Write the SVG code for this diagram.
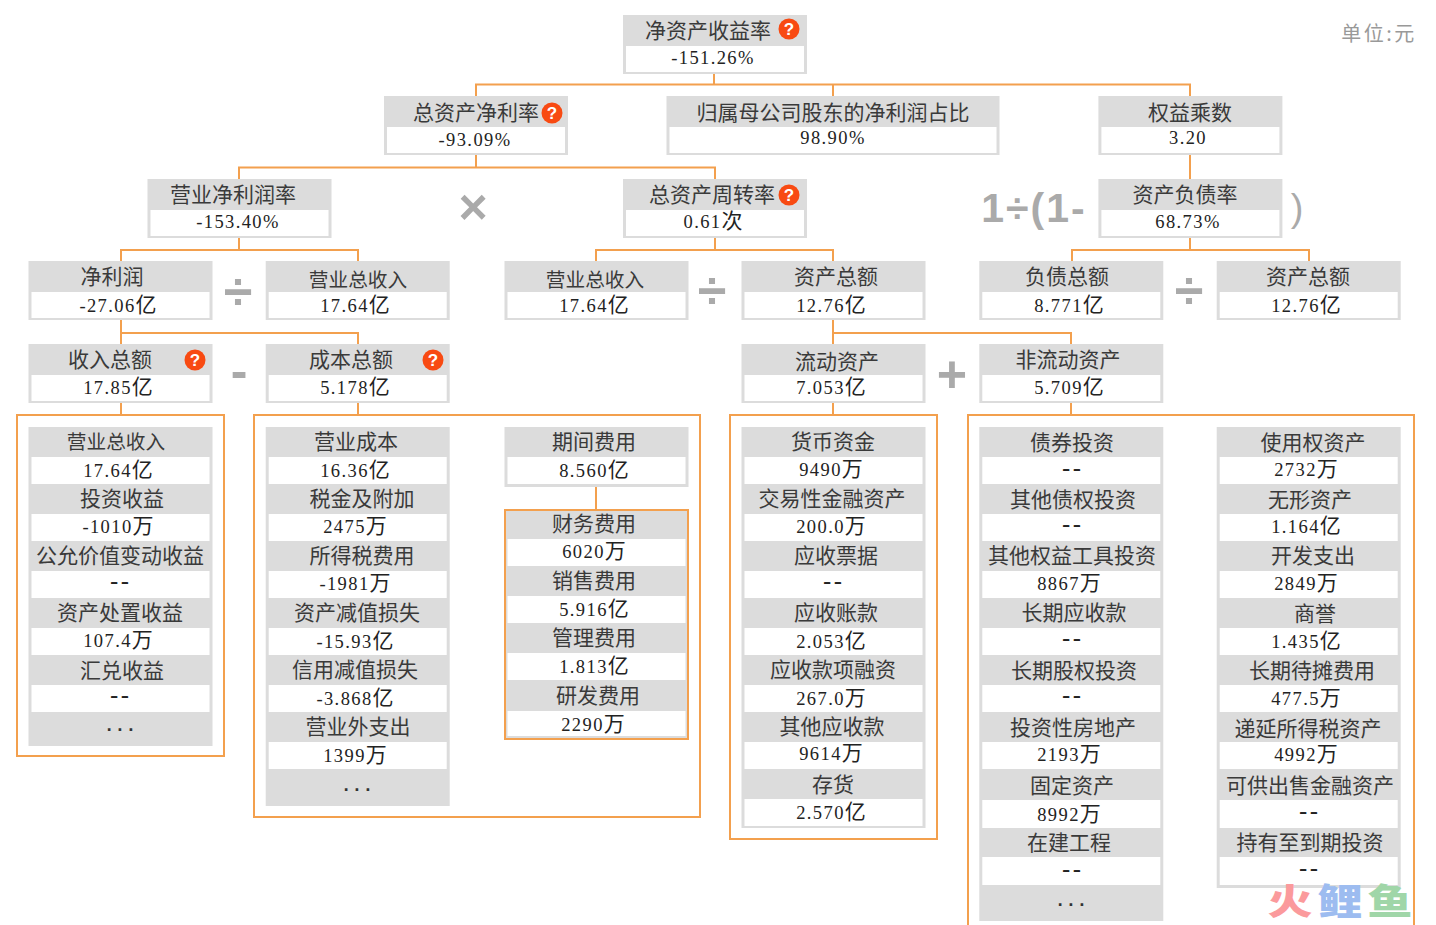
<svg xmlns="http://www.w3.org/2000/svg" width="1436" height="925" viewBox="0 0 1436 925">
<style>
text{text-anchor:middle}
.g{fill:#dcdcdc}
.w{fill:#fff}
.h{font:21px "Noto Sans CJK SC",sans-serif;fill:#3a3a3a}
.h5{font-size:19.7px}
g[id^=list] .h,#n-period .h{transform:translateY(-1px)}
.v{font:18.5px "Liberation Serif","Noto Sans CJK SC",serif;fill:#222;letter-spacing:1.4px}
.v tspan{font:21px "Noto Sans CJK SC",sans-serif;letter-spacing:0}
.d{font:23px "Liberation Mono",monospace;fill:#222;letter-spacing:-3px}
.c{fill:none;stroke:#f3a04e;stroke-width:2}
.q{fill:#f84a12}
.qt{font:bold 17px "Liberation Sans",sans-serif;fill:#fff}
.op{font-family:"Liberation Sans",sans-serif;font-weight:bold;fill:#aaa}
.more{font:bold 18px "Liberation Mono",monospace;fill:#333}
</style>
<defs>
<g id="qm"><circle class="q" r="10.5"/><text class="qt" y="6">?</text></g>
</defs>
<rect width="1436" height="925" fill="#fff"/>
<g id="connectors">
<path class="c" d="M714 74V84.500M476 96V84.500H1190V96M833 84.500V96"/>
<path class="c" d="M476 155V167.500M239 179V167.500H715V179M1190 155V179"/>
<path class="c" d="M239 238V250M121 261V250H358V261M715 238V250M596 261V250H833V261M1190 238V250M1072 261V250H1309V261"/>
<path class="c" d="M121 320V344M121 333H358V344M833 320V344M833 333H1071V344"/>
<path class="c" d="M121 403V415M358 403V415M833 403V415M1071 403V415M596 487V510"/>
<rect class="c" x="17" y="415" width="207" height="341"/>
<rect class="c" x="254" y="415" width="446" height="402"/>
<rect class="c" x="730" y="415" width="207" height="424"/>
<path class="c" d="M968 925V415H1414V925"/>
</g>
<g id="n-roe"><rect class="g" x="623" y="15" width="184" height="59"/><rect class="w" x="626" y="46" width="178" height="26"/><text class="h" x="708" y="38">净资产收益率</text><text class="v" x="713" y="64">-151.26%</text><use href="#qm" x="789" y="29"/></g>
<g id="n-roa"><rect class="g" x="384" y="96" width="184" height="59"/><rect class="w" x="387" y="127" width="178" height="26"/><text class="h" x="476" y="120">总资产净利率</text><text class="v" x="475" y="146">-93.09%</text><use href="#qm" x="552" y="113"/></g>
<g id="n-parent"><rect class="g" x="666.500" y="96" width="333" height="59"/><rect class="w" x="669.500" y="127" width="327" height="26"/><text class="h" x="833" y="120">归属母公司股东的净利润占比</text><text class="v" x="833" y="144">98.90%</text></g>
<g id="n-em"><rect class="g" x="1098.400" y="96" width="184" height="59"/><rect class="w" x="1101.400" y="127" width="178" height="26"/><text class="h" x="1190" y="120">权益乘数</text><text class="v" x="1188" y="144">3.20</text></g>
<g id="n-npm"><rect class="g" x="147.500" y="179" width="184" height="59"/><rect class="w" x="150.500" y="210" width="178" height="26"/><text class="h" x="233" y="202">营业净利润率</text><text class="v" x="238" y="228">-153.40%</text></g>
<g id="n-tat"><rect class="g" x="623" y="179" width="184" height="59"/><rect class="w" x="626" y="210" width="178" height="26"/><text class="h" x="712" y="202">总资产周转率</text><text class="v" x="713" y="228">0.61<tspan>次</tspan></text><use href="#qm" x="789" y="195"/></g>
<g id="n-dar"><rect class="g" x="1098.400" y="179" width="184" height="59"/><rect class="w" x="1101.400" y="210" width="178" height="26"/><text class="h" x="1185" y="202">资产负债率</text><text class="v" x="1188" y="228">68.73%</text></g>
<g id="n-np"><rect class="g" x="28.500" y="261" width="184" height="59"/><rect class="w" x="31.500" y="292" width="178" height="26"/><text class="h" x="112" y="284">净利润</text><text class="v" x="118" y="312">-27.06<tspan>亿</tspan></text></g>
<g id="n-rev1"><rect class="g" x="265.700" y="261" width="184" height="59"/><rect class="w" x="268.700" y="292" width="178" height="26"/><text class="h h5" x="358" y="287">营业总收入</text><text class="v" x="355" y="312">17.64<tspan>亿</tspan></text></g>
<g id="n-rev2"><rect class="g" x="504.500" y="261" width="184" height="59"/><rect class="w" x="507.500" y="292" width="178" height="26"/><text class="h h5" x="595" y="287">营业总收入</text><text class="v" x="594" y="312">17.64<tspan>亿</tspan></text></g>
<g id="n-ta1"><rect class="g" x="741.500" y="261" width="184" height="59"/><rect class="w" x="744.500" y="292" width="178" height="26"/><text class="h" x="836" y="284">资产总额</text><text class="v" x="831" y="312">12.76<tspan>亿</tspan></text></g>
<g id="n-tl"><rect class="g" x="979.300" y="261" width="184" height="59"/><rect class="w" x="982.300" y="292" width="178" height="26"/><text class="h" x="1067" y="284">负债总额</text><text class="v" x="1069" y="312">8.771<tspan>亿</tspan></text></g>
<g id="n-ta2"><rect class="g" x="1216.700" y="261" width="184" height="59"/><rect class="w" x="1219.700" y="292" width="178" height="26"/><text class="h" x="1308" y="284">资产总额</text><text class="v" x="1306" y="312">12.76<tspan>亿</tspan></text></g>
<g id="n-inc"><rect class="g" x="28.500" y="344" width="184" height="59"/><rect class="w" x="31.500" y="375" width="178" height="26"/><text class="h" x="110" y="367">收入总额</text><text class="v" x="118" y="394">17.85<tspan>亿</tspan></text><use href="#qm" x="195" y="360"/></g>
<g id="n-cost"><rect class="g" x="265.700" y="344" width="184" height="59"/><rect class="w" x="268.700" y="375" width="178" height="26"/><text class="h" x="351" y="367">成本总额</text><text class="v" x="355" y="394">5.178<tspan>亿</tspan></text><use href="#qm" x="433" y="360"/></g>
<g id="n-ca"><rect class="g" x="741.500" y="344" width="184" height="59"/><rect class="w" x="744.500" y="375" width="178" height="26"/><text class="h" x="837" y="369">流动资产</text><text class="v" x="831" y="394">7.053<tspan>亿</tspan></text></g>
<g id="n-nca"><rect class="g" x="979.300" y="344" width="184" height="59"/><rect class="w" x="982.300" y="375" width="178" height="26"/><text class="h" x="1068" y="367">非流动资产</text><text class="v" x="1069" y="394">5.709<tspan>亿</tspan></text></g>
<g id="list-income"><rect class="g" x="28.500" y="427" width="184" height="319"/>
<rect class="w" x="31.500" y="457" width="178" height="27"/><text class="h h5" x="116" y="450">营业总收入</text><text class="v" x="118" y="477">17.64<tspan>亿</tspan></text>
<rect class="w" x="31.500" y="514" width="178" height="27"/><text class="h" x="122" y="507">投资收益</text><text class="v" x="118" y="533">-1010<tspan>万</tspan></text>
<rect class="w" x="31.500" y="571" width="178" height="27"/><text class="h" x="120" y="564">公允价值变动收益</text><text class="d" x="118" y="589">--</text>
<rect class="w" x="31.500" y="628" width="178" height="27"/><text class="h" x="120" y="621">资产处置收益</text><text class="v" x="118" y="647">107.4<tspan>万</tspan></text>
<rect class="w" x="31.500" y="685" width="178" height="27"/><text class="h" x="122" y="679">汇兑收益</text><text class="d" x="118" y="703">--</text>
<text class="more" x="120" y="731">...</text></g>
<g id="list-cost"><rect class="g" x="265.700" y="427" width="184" height="379"/>
<rect class="w" x="268.700" y="457" width="178" height="27"/><text class="h" x="356" y="450">营业成本</text><text class="v" x="355" y="477">16.36<tspan>亿</tspan></text>
<rect class="w" x="268.700" y="514" width="178" height="27"/><text class="h" x="362" y="507">税金及附加</text><text class="v" x="355" y="533">2475<tspan>万</tspan></text>
<rect class="w" x="268.700" y="571" width="178" height="27"/><text class="h" x="362" y="564">所得税费用</text><text class="v" x="355" y="590">-1981<tspan>万</tspan></text>
<rect class="w" x="268.700" y="628" width="178" height="27"/><text class="h" x="357" y="621">资产减值损失</text><text class="v" x="355" y="648">-15.93<tspan>亿</tspan></text>
<rect class="w" x="268.700" y="685" width="178" height="27"/><text class="h" x="355" y="678">信用减值损失</text><text class="v" x="355" y="705">-3.868<tspan>亿</tspan></text>
<rect class="w" x="268.700" y="742" width="178" height="27"/><text class="h" x="358" y="735">营业外支出</text><text class="v" x="355" y="762">1399<tspan>万</tspan></text>
<text class="more" x="357" y="791">...</text></g>
<g id="n-period"><rect class="g" x="504.500" y="427" width="184" height="60"/><rect class="w" x="507.500" y="457" width="178" height="27"/><text class="h" x="594" y="450">期间费用</text><text class="v" x="594" y="477">8.560<tspan>亿</tspan></text></g>
<g id="list-period"><rect class="g" x="505" y="510" width="183" height="229"/>
<rect class="w" x="507.500" y="539" width="178" height="27"/><text class="h" x="594" y="532">财务费用</text><text class="v" x="594" y="558">6020<tspan>万</tspan></text>
<rect class="w" x="507.500" y="596" width="178" height="27"/><text class="h" x="594" y="589">销售费用</text><text class="v" x="594" y="616">5.916<tspan>亿</tspan></text>
<rect class="w" x="507.500" y="653" width="178" height="27"/><text class="h" x="594" y="646">管理费用</text><text class="v" x="594" y="673">1.813<tspan>亿</tspan></text>
<rect class="w" x="507.500" y="711" width="178" height="25"/><text class="h" x="598" y="704">研发费用</text><text class="v" x="593" y="731">2290<tspan>万</tspan></text>
<rect class="c" x="505" y="510" width="183" height="229"/></g>
<g id="list-ca"><rect class="g" x="741.500" y="427" width="184" height="401"/>
<rect class="w" x="744.500" y="457" width="178" height="27"/><text class="h" x="833" y="450">货币资金</text><text class="v" x="831" y="476">9490<tspan>万</tspan></text>
<rect class="w" x="744.500" y="514" width="178" height="27"/><text class="h" x="832" y="507">交易性金融资产</text><text class="v" x="831" y="533">200.0<tspan>万</tspan></text>
<rect class="w" x="744.500" y="571" width="178" height="27"/><text class="h" x="836" y="564">应收票据</text><text class="d" x="831" y="589">--</text>
<rect class="w" x="744.500" y="628" width="178" height="27"/><text class="h" x="836" y="621">应收账款</text><text class="v" x="831" y="648">2.053<tspan>亿</tspan></text>
<rect class="w" x="744.500" y="685" width="178" height="27"/><text class="h" x="833" y="678">应收款项融资</text><text class="v" x="831" y="705">267.0<tspan>万</tspan></text>
<rect class="w" x="744.500" y="742" width="178" height="27"/><text class="h" x="832" y="735">其他应收款</text><text class="v" x="831" y="760">9614<tspan>万</tspan></text>
<rect class="w" x="744.500" y="799" width="178" height="27"/><text class="h" x="833" y="793">存货</text><text class="v" x="831" y="819">2.570<tspan>亿</tspan></text></g>
<g id="list-nca-1"><rect class="g" x="979.300" y="427" width="184" height="494"/>
<rect class="w" x="982.300" y="457" width="178" height="27"/><text class="h" x="1072" y="451">债券投资</text><text class="d" x="1070" y="476">--</text>
<rect class="w" x="982.300" y="514" width="178" height="27"/><text class="h" x="1073" y="508">其他债权投资</text><text class="d" x="1070" y="532">--</text>
<rect class="w" x="982.300" y="571" width="178" height="27"/><text class="h" x="1072" y="564">其他权益工具投资</text><text class="v" x="1069" y="590">8867<tspan>万</tspan></text>
<rect class="w" x="982.300" y="628" width="178" height="27"/><text class="h" x="1074" y="621">长期应收款</text><text class="d" x="1070" y="646">--</text>
<rect class="w" x="982.300" y="685" width="178" height="27"/><text class="h" x="1074" y="679">长期股权投资</text><text class="d" x="1070" y="703">--</text>
<rect class="w" x="982.300" y="742" width="178" height="27"/><text class="h" x="1073" y="736">投资性房地产</text><text class="v" x="1069" y="761">2193<tspan>万</tspan></text>
<rect class="w" x="982.300" y="800" width="178" height="28"/><text class="h" x="1072" y="794">固定资产</text><text class="v" x="1069" y="821">8992<tspan>万</tspan></text>
<rect class="w" x="982.300" y="857" width="178" height="28"/><text class="h" x="1069" y="851">在建工程</text><text class="d" x="1070" y="877">--</text>
<text class="more" x="1071" y="906">...</text></g>
<g id="list-nca-2"><rect class="g" x="1216.700" y="427" width="184" height="461"/>
<rect class="w" x="1219.700" y="457" width="178" height="27"/><text class="h" x="1313" y="451">使用权资产</text><text class="v" x="1306" y="476">2732<tspan>万</tspan></text>
<rect class="w" x="1219.700" y="514" width="178" height="27"/><text class="h" x="1310" y="508">无形资产</text><text class="v" x="1306" y="533">1.164<tspan>亿</tspan></text>
<rect class="w" x="1219.700" y="571" width="178" height="27"/><text class="h" x="1313" y="564">开发支出</text><text class="v" x="1306" y="590">2849<tspan>万</tspan></text>
<rect class="w" x="1219.700" y="628" width="178" height="27"/><text class="h" x="1315" y="622">商誉</text><text class="v" x="1306" y="648">1.435<tspan>亿</tspan></text>
<rect class="w" x="1219.700" y="685" width="178" height="27"/><text class="h" x="1312" y="679">长期待摊费用</text><text class="v" x="1306" y="705">477.5<tspan>万</tspan></text>
<rect class="w" x="1219.700" y="742" width="178" height="27"/><text class="h" x="1308" y="737">递延所得税资产</text><text class="v" x="1306" y="761">4992<tspan>万</tspan></text>
<rect class="w" x="1219.700" y="800" width="178" height="28"/><text class="h" x="1310" y="794">可供出售金融资产</text><text class="d" x="1307" y="819">--</text>
<rect class="w" x="1219.700" y="857" width="178" height="28"/><text class="h" x="1310" y="851">持有至到期投资</text><text class="d" x="1307" y="876">--</text></g>
<g id="labels">
<text x="1379" y="41" style="font:20px 'Noto Sans CJK SC',sans-serif;fill:#999;letter-spacing:2.5px">单位:元</text>
<text class="op" x="473" y="224" font-size="50">×</text>
<text class="op" x="1034" y="222" font-size="41" letter-spacing="2">1÷(1-</text>
<text class="op" x="1297" y="221" font-size="38" style="font-weight:normal">)</text>
<text class="op" x="238" y="309" font-size="52">÷</text>
<text class="op" x="712" y="308" font-size="52">÷</text>
<text class="op" x="1189" y="308" font-size="52">÷</text>
<text class="op" x="239" y="388" font-size="50">-</text>
<text class="op" x="952" y="392" font-size="52">+</text>
</g>
<g id="watermark" style="font:900 36px 'Noto Sans CJK SC',sans-serif">
<text transform="translate(1290 915) scale(1.25 1)" fill="#fb9a9c">火</text>
<text transform="translate(1340 915) scale(1.25 1)" fill="#9dbcf0">鲤</text>
<text transform="translate(1390 915) scale(1.25 1)" fill="#a0d6a8">鱼</text>
</g>
</svg>
